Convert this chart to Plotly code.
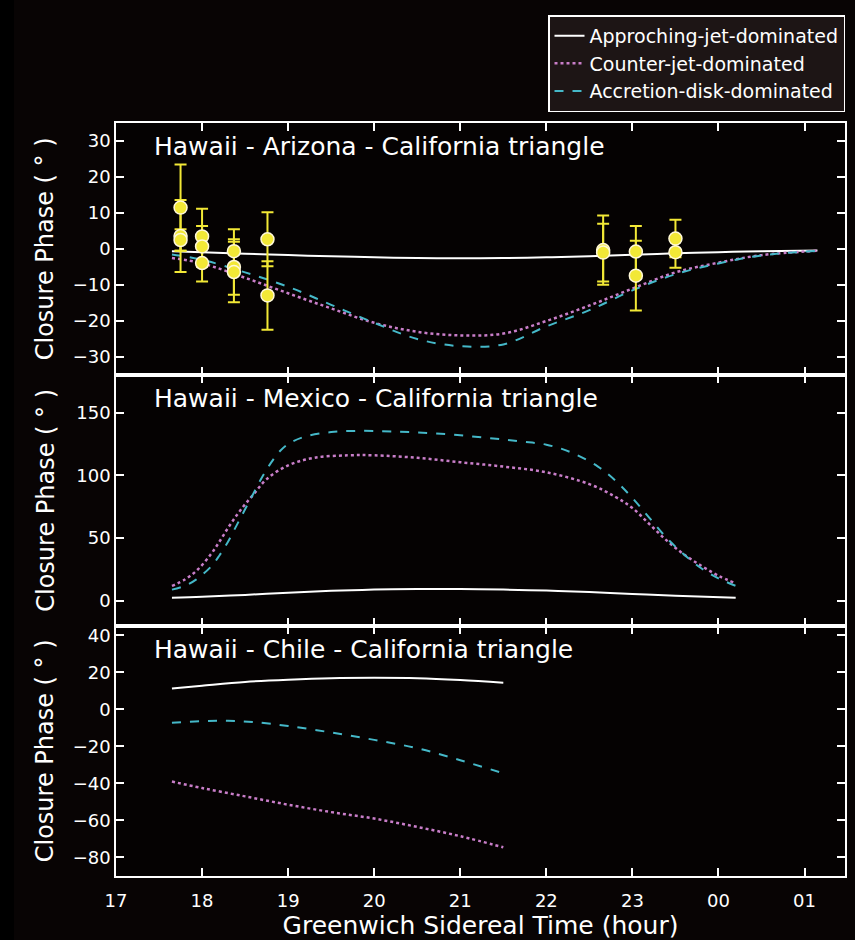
import plotly.graph_objects as go
from plotly.subplots import make_subplots

# ---------------- data ----------------
TICK_VALS = [17, 18, 19, 20, 21, 22, 23, 24, 25]
TICK_TEXT = ["17", "18", "19", "20", "21", "22", "23", "00", "01"]

# Hawaii - Arizona - California
AZ_T = [17.65, 18.0, 18.5, 19.0, 19.5, 20.0, 20.5, 21.0, 21.5, 22.0, 22.5, 23.0, 23.5, 24.0, 24.5, 25.15]
AZ_APPR = [-0.6, -0.9, -1.3, -1.7, -2.0, -2.3, -2.5, -2.6, -2.5, -2.3, -2.0, -1.6, -1.2, -0.9, -0.6, -0.4]
AZ_CNTR = [-2.5, -4.0, -8.0, -12.3, -16.5, -20.5, -23.0, -24.0, -23.5, -20.0, -15.7, -11.0, -6.5, -3.8, -1.7, -0.5]
AZ_DISK = [-1.5, -3.0, -6.5, -10.5, -15.5, -20.5, -25.0, -27.0, -26.5, -21.5, -17.0, -11.5, -7.0, -4.0, -1.8, -0.5]

OBS_T = [17.75, 17.75, 17.75, 18.0, 18.0, 18.0, 18.37, 18.37, 18.37, 18.76, 18.76,
         22.66, 22.66, 23.04, 23.04, 23.5, 23.5]
OBS_CP = [11.5, 3.6, 2.5, 3.5, 0.7, -3.9, -0.6, -5.0, -6.4, 2.7, -12.9,
          -0.3, -1.0, -0.7, -7.4, 2.9, -0.9]
OBS_ERR = [12.0, 10.0, 3.0, 7.7, 5.7, 5.1, 6.1, 7.7, 8.4, 7.5, 9.5,
           9.6, 8.0, 7.1, 9.7, 5.2, 4.3]

# Hawaii - Mexico - California
MX_T_APPR = [17.65, 18.0, 18.5, 19.0, 19.5, 20.0, 20.5, 21.0, 21.5, 22.0, 22.5, 23.0, 23.5, 24.2]
MX_APPR = [2.6, 3.3, 4.8, 6.5, 8.0, 9.0, 9.5, 9.5, 9.0, 8.2, 7.0, 5.5, 4.2, 2.5]
MX_T_CNTR = [17.65, 17.8, 17.95, 18.1, 18.2, 18.3, 18.4, 18.5, 18.6, 18.75, 19.0, 19.3, 19.7,
             20.0, 20.5, 21.0, 21.5, 22.0, 22.5, 22.8, 23.0, 23.2, 23.4, 23.6, 23.8, 24.0, 24.2]
MX_CNTR = [12, 17, 25, 37, 47, 58, 68, 77, 85, 97, 108, 114, 116,
           116, 114, 110.5, 107, 102.5, 93, 83, 74, 61, 48, 37, 28, 20, 14]
MX_T_DISK = [17.65, 17.8, 17.93, 18.1, 18.2, 18.3, 18.4, 18.5, 18.6, 18.7, 18.8, 18.9, 19.0,
             19.2, 19.5, 19.8, 20.2, 20.7, 21.3, 21.7, 22.0, 22.3, 22.6, 22.8, 23.0, 23.2,
             23.4, 23.6, 23.8, 24.0, 24.2]
MX_DISK = [9, 12, 17, 27, 36, 47, 60, 73, 86, 99, 110, 119, 125,
           131, 134.5, 135.5, 135, 133.5, 130, 127, 124.5, 118, 107, 96, 82, 66,
           50, 37, 26, 18, 12]

# Hawaii - Chile - California
CH_T = [17.65, 18.0, 18.5, 19.0, 19.5, 20.0, 20.5, 21.0, 21.5]
CH_APPR = [11.3, 12.8, 14.8, 16.0, 16.8, 17.0, 16.8, 15.8, 14.3]
CH_CNTR = [-39.0, -42.5, -47.0, -51.5, -55.5, -59.0, -63.5, -68.5, -74.5]
CH_T_DISK = [17.65, 18.0, 18.3, 18.6, 19.0, 19.5, 20.0, 20.5, 21.0, 21.5]
CH_DISK = [-7.2, -6.4, -6.2, -6.9, -9.0, -12.5, -16.5, -21.0, -27.5, -34.5]

PANEL_TITLES = ["Hawaii - Arizona - California triangle",
                "Hawaii - Mexico - California triangle",
                "Hawaii - Chile - California triangle"]
Y_RANGES = [[-35, 35], [-20, 180], [-90, 45]]
Y_TICKS = [[-30, -20, -10, 0, 10, 20, 30], [0, 50, 100, 150], [-80, -60, -40, -20, 0, 20, 40]]

# ---------------- styles ----------------
WHITE = "#ffffff"
PINK = "#c97ec9"
CYAN = "#45b8c8"
YELLOW = "#f2e836"
FONT = "DejaVu Sans, Liberation Sans, sans-serif"

fig = make_subplots(rows=3, cols=1, shared_xaxes=True, vertical_spacing=0,
                    row_heights=[252, 251, 250])

def model(row, t, y, color, dash, width, name, show):
    fig.add_trace(go.Scatter(x=t, y=y, mode="lines", name=name, showlegend=show,
                             line=dict(color=color, dash=dash, width=width, shape="spline"),
                             legendgroup=name), row=row, col=1)

names = ["Approching-jet-dominated", "Counter-jet-dominated", "Accretion-disk-dominated"]

model(1, AZ_T, AZ_APPR, WHITE, "solid", 2, names[0], True)
model(1, AZ_T, AZ_CNTR, PINK, "dot", 2.5, names[1], True)
model(1, AZ_T, AZ_DISK, CYAN, "dash", 2, names[2], True)

fig.add_trace(go.Scatter(x=OBS_T, y=OBS_CP, mode="markers", showlegend=False,
                         marker=dict(color=YELLOW, size=13, line=dict(color="#fff8d8", width=1.5)),
                         error_y=dict(type="data", array=OBS_ERR, color=YELLOW, thickness=2, width=6)),
              row=1, col=1)

model(2, MX_T_APPR, MX_APPR, WHITE, "solid", 2, names[0], False)
model(2, MX_T_CNTR, MX_CNTR, PINK, "dot", 2.5, names[1], False)
model(2, MX_T_DISK, MX_DISK, CYAN, "dash", 2, names[2], False)

model(3, CH_T, CH_APPR, WHITE, "solid", 2, names[0], False)
model(3, CH_T, CH_CNTR, PINK, "dot", 2.5, names[1], False)
model(3, CH_T_DISK, CH_DISK, CYAN, "dash", 2, names[2], False)

axis_common = dict(showline=True, linecolor="white", linewidth=1.5, mirror="allticks",
                   ticks="inside", ticklen=8, tickwidth=1.5, tickcolor="white",
                   showgrid=False, zeroline=False,
                   tickfont=dict(family=FONT, size=18, color="white"))

for r in range(1, 4):
    fig.update_xaxes(range=[17, 25.47], tickvals=TICK_VALS, ticktext=TICK_TEXT,
                     showticklabels=(r == 3), row=r, col=1, **axis_common)
    fig.update_yaxes(range=Y_RANGES[r - 1], tickvals=Y_TICKS[r - 1], row=r, col=1, **axis_common)

fig.update_xaxes(ticklabelstandoff=8,
                 title=dict(text="Greenwich Sidereal Time (hour)",
                            font=dict(family=FONT, size=25, color="white"), standoff=3),
                 row=3, col=1)

ann = []
yrefs = ["y domain", "y2 domain", "y3 domain"]
for i, txt in enumerate(PANEL_TITLES):
    ann.append(dict(text=txt, xref="x domain", yref=yrefs[i], x=0.05, y=0.905,
                    xanchor="left", yanchor="middle", showarrow=False,
                    font=dict(family=FONT, size=25, color="white")))
    ann.append(dict(text="Closure Phase ( ° )", xref="paper", yref=yrefs[i], x=-0.097, y=0.5,
                    xanchor="center", yanchor="middle", textangle=-90, showarrow=False,
                    font=dict(family=FONT, size=24, color="white")))

fig.update_layout(
    width=855, height=940,
    margin=dict(l=116, r=8, t=123, b=64),
    paper_bgcolor="#080404", plot_bgcolor="#050202",
    annotations=ann,
    showlegend=True,
    legend=dict(x=1.0, y=1.143, xanchor="right", yanchor="top",
                bgcolor="#1d1515", bordercolor="white", borderwidth=1.5,
                font=dict(family=FONT, size=19, color="white"),
                itemwidth=30, tracegroupgap=0),
    shapes=[dict(type="rect", xref="paper", yref="paper", x0=-0.16, x1=-0.14, y0=-0.09, y1=1.17,
                 fillcolor="#000000", line=dict(width=0), layer="below")],
)

fig.write_html("out.html")
